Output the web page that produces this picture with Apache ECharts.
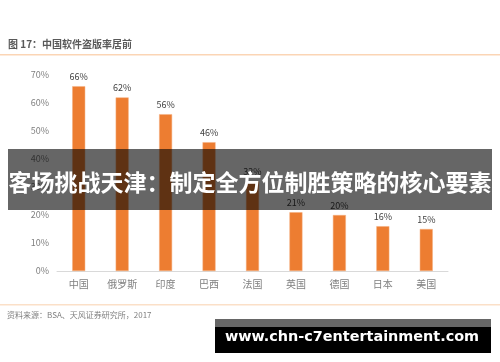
<!DOCTYPE html>
<html><head><meta charset="utf-8">
<script src="https://cdn.jsdelivr.net/npm/echarts@6/dist/echarts.min.js"></script>
<style>html,body{margin:0;padding:0;background:#fff}#c{width:500px;height:362px}</style>
</head><body><div id="c"></div>
<script>
const categories = ['中国','俄罗斯','印度','巴西','法国','英国','德国','日本','美国'];
const piracyRate = [66,62,56,46,32,21,20,16,15];
const yTicks = [0,10,20,30,40,50,60,70];
const titleText = '图 17：中国软件盗版率居前';
const sourceText = '资料来源：BSA、天风证券研究所，2017';
const bannerText = '客场挑战天津：制定全方位制胜策略的核心要素';
const watermarkText = 'www.chn-c7entertainment.com';

const chart = echarts.init(document.getElementById('c'));
const font = '"Noto Sans CJK SC", "Noto Sans", sans-serif';
chart.setOption({
  animation:false,
  textStyle:{fontFamily:font},
  grid:{left:57,right:52,top:75,bottom:91},
  xAxis:{type:'category',data:categories,
    axisLine:{lineStyle:{color:'#d9d9d9'}},axisTick:{show:false},
    axisLabel:{color:'#7f7f7f',fontSize:10,margin:8,fontFamily:font}},
  yAxis:{type:'value',min:0,max:70,interval:10,
    axisLine:{show:false},axisTick:{show:false},splitLine:{show:false},
    axisLabel:{color:'#7f7f7f',fontSize:9,margin:8,fontFamily:font,
      formatter:v=>yTicks.includes(v)?v+'%':''}},
  series:[{type:'bar',data:piracyRate,barWidth:13,
    itemStyle:{color:'#ed7d31',borderColor:'#f4b183',borderWidth:0.5},
    label:{show:true,position:'top',distance:5,color:'#404040',fontSize:9,fontFamily:font,formatter:'{c}%'}}],
  graphic:[
    {type:'text',left:8,top:39,style:{text:titleText,fill:'#595959',font:'bold 10px '+font}},
    {type:'rect',shape:{x:0,y:54,width:500,height:1.5},style:{fill:'#fbd5b5'}},
    {type:'rect',shape:{x:0,y:304,width:500,height:1.5},style:{fill:'#fbe0c8'}},
    {type:'text',left:7,top:311,style:{text:sourceText,fill:'#7f7f7f',font:'8px '+font}},
    {type:'rect',z:100,shape:{x:8,y:149,width:484,height:61},style:{fill:'rgba(0,0,0,0.6)'}},
    {type:'text',z:101,x:250,y:182,style:{text:bannerText,fill:'#fff',font:'bold 23px '+font,align:'center',verticalAlign:'middle'}},
    {type:'rect',z:100,shape:{x:215,y:319,width:276,height:34},style:{fill:'#000'}},
    {type:'rect',z:100,shape:{x:215,y:319,width:276,height:8},style:{fill:'#666'}},
    {type:'text',z:101,x:352,y:337,style:{text:watermarkText,fill:'#fff',font:'bold 14.4px "DejaVu Sans", sans-serif',align:'center',verticalAlign:'middle'}}
  ]
});
</script></body></html>
